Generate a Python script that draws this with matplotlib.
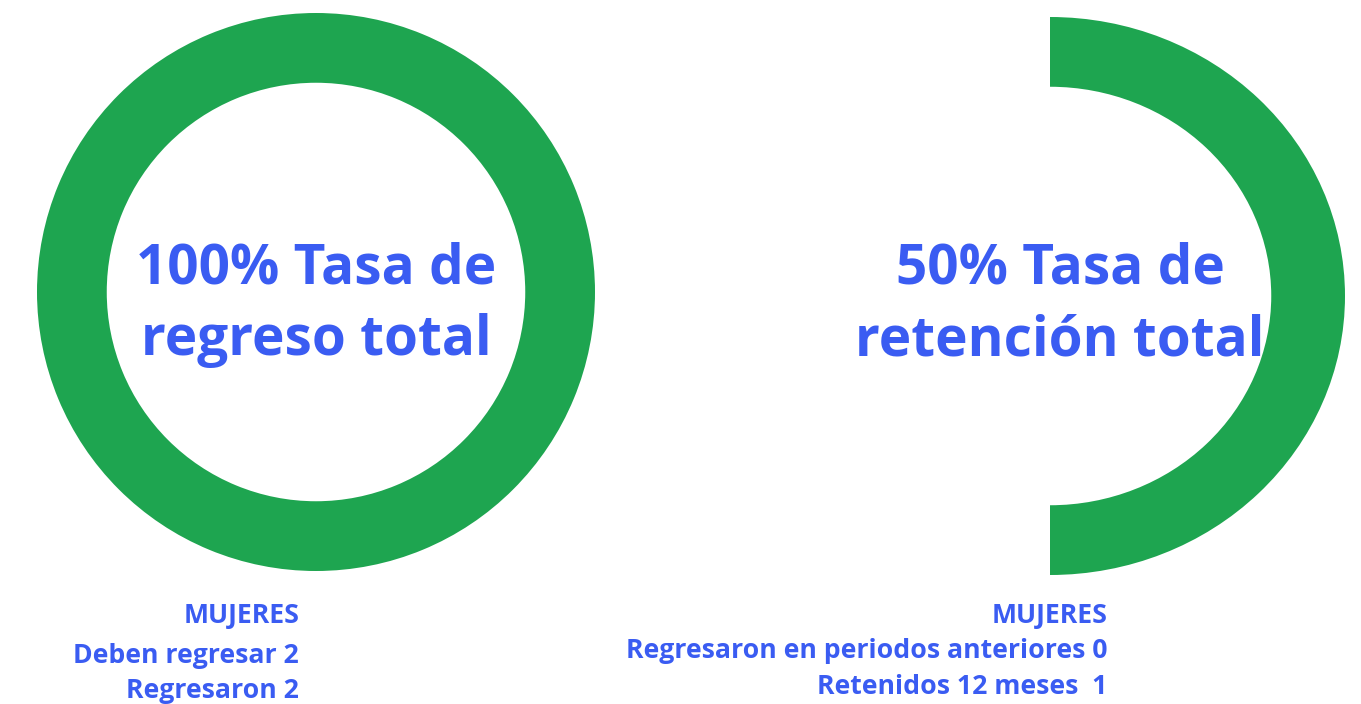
import matplotlib
matplotlib.use("Agg")
import matplotlib.pyplot as plt

# ---- data ----
left_values = [2, 0]            # Regresaron, faltan
left_center = ["100% Tasa de", "regreso total"]
left_labels = ["MUJERES", "Deben regresar 2", "Regresaron 2"]

right_values = [1, 1]           # Retenidos, no retenidos
right_center = ["50% Tasa de", "retención total"]
right_labels = ["MUJERES", "Regresaron en periodos anteriores 0", "Retenidos 12 meses  1"]

GREEN = "#1ea550"
BLUE = "#3a5cf2"
W, H = 1361, 704
FONT = ["Open Sans", "DejaVu Sans"]

fig = plt.figure(figsize=(W / 100, H / 100), dpi=100)
fig.patch.set_facecolor("white")


def px_axes(x0, y0, w, h):
    return fig.add_axes([x0 / W, 1 - (y0 + h) / H, w / W, h / H])


# left donut
axl = px_axes(37, 13, 558, 558)
axl.pie(left_values, colors=[GREEN, "none"], startangle=90, counterclock=False,
        radius=1, wedgeprops=dict(width=0.25, linewidth=0))
axl.set_xlim(-1, 1); axl.set_ylim(-1, 1)
axl.set_aspect("auto")
axl.axis("off")

# right donut (half)
axr = px_axes(755, 17, 590, 558)
axr.pie(right_values, colors=[GREEN, "none"], startangle=90,
        counterclock=False, radius=1, wedgeprops=dict(width=0.25, linewidth=0))
axr.set_xlim(-1, 1); axr.set_ylim(-1, 1)
axr.set_aspect("auto")
axr.axis("off")

CS = 39.5
# center texts
for cx, lines in [(316, left_center), (1060, right_center)]:
    for txt, y in zip(lines, [269, 341]):
        fig.text(cx / W, 1 - y / H, txt, ha="center", va="center",
                 fontsize=CS, fontweight="bold", color=BLUE, family=FONT)

BS = 19.2
# bottom texts
for txt, y in zip(left_labels, [616, 656, 691]):
    fig.text(299 / W, 1 - y / H, txt, ha="right", va="center",
             fontsize=BS, fontweight="bold", color=BLUE, family=FONT)
for txt, y in zip(right_labels, [616, 651, 687]):
    fig.text(1107 / W, 1 - y / H, txt, ha="right", va="center",
             fontsize=BS, fontweight="bold", color=BLUE, family=FONT)

fig.savefig("out.png", dpi=100, facecolor="white")
